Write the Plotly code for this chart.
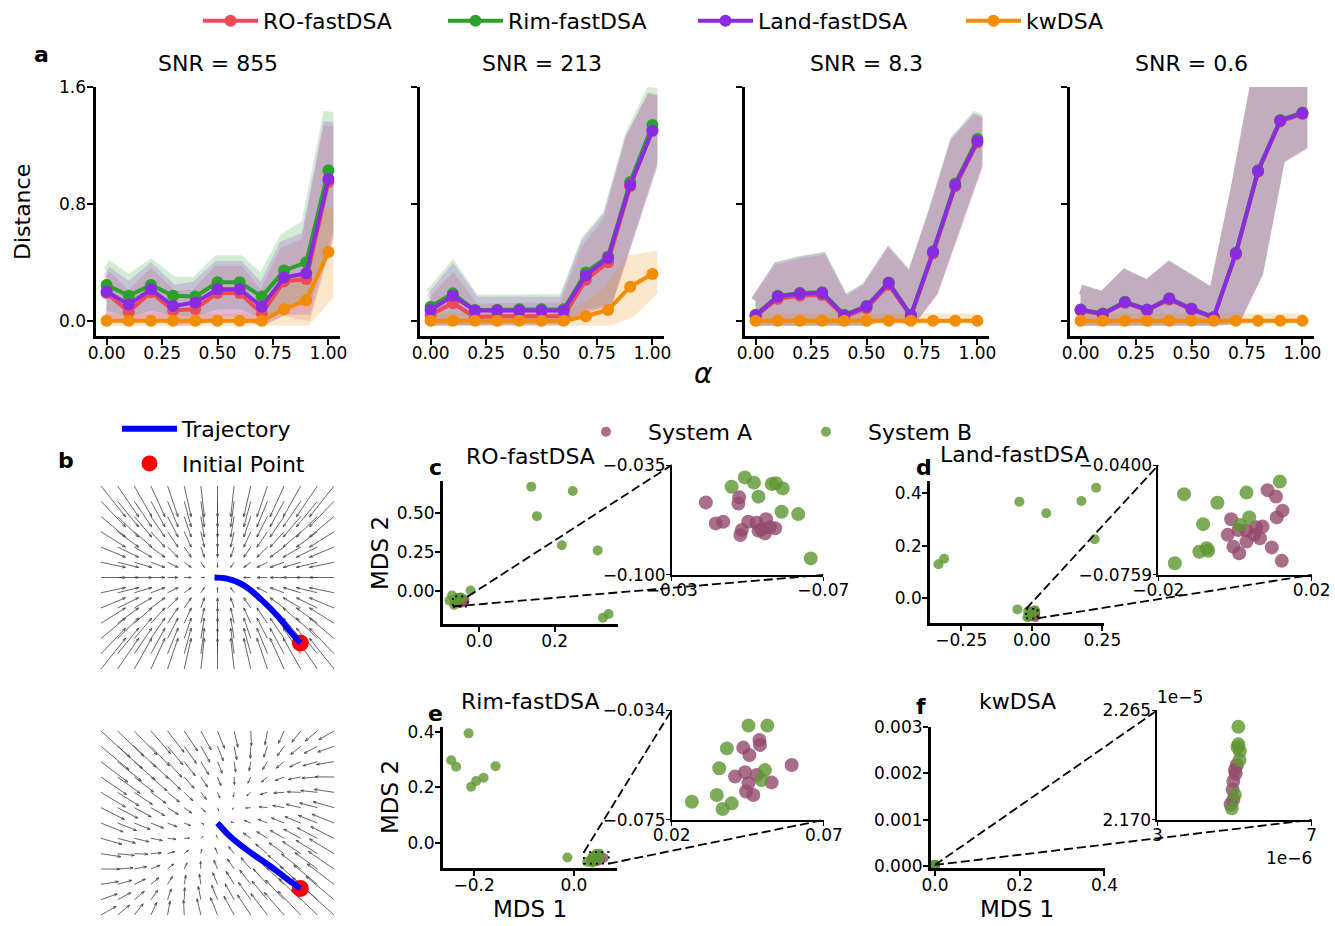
import numpy as np
import plotly.graph_objects as go

W, H = 1335, 926
FONT = "DejaVu Sans"

# ---------------- panel a data ----------------
alpha = [0.0, 0.1, 0.2, 0.3, 0.4, 0.5, 0.6, 0.7, 0.8, 0.9, 1.0]
snr_titles = ["SNR = 855", "SNR = 213", "SNR = 8.3", "SNR = 0.6"]
method_names = ["RO-fastDSA", "Rim-fastDSA", "Land-fastDSA", "kwDSA"]
method_colors = ["#EB4B55", "#2CA02C", "#8A2BE2", "#F28C00"]

ro_mean_855 = [0.19, 0.06, 0.195, 0.07, 0.08, 0.19, 0.19, 0.05, 0.27, 0.285, 0.95]
ro_sd_855 = [0.12, 0.10, 0.12, 0.10, 0.10, 0.15, 0.15, 0.10, 0.20, 0.25, 0.38]
rim_mean_855 = [0.245, 0.17, 0.245, 0.17, 0.165, 0.263, 0.263, 0.165, 0.343, 0.40, 1.03]
rim_sd_855 = [0.14, 0.11, 0.14, 0.10, 0.10, 0.15, 0.15, 0.11, 0.22, 0.26, 0.40]
land_mean_855 = [0.20, 0.11, 0.215, 0.10, 0.125, 0.215, 0.215, 0.096, 0.295, 0.325, 0.97]
land_sd_855 = [0.14, 0.12, 0.14, 0.11, 0.11, 0.16, 0.16, 0.11, 0.22, 0.25, 0.39]
kw_mean_855 = [0.0, 0.0, 0.0, 0.0, 0.0, 0.0, 0.0, 0.0, 0.078, 0.14, 0.47]
kw_sd_855 = [0.015, 0.015, 0.015, 0.015, 0.015, 0.015, 0.015, 0.015, 0.10, 0.17, 0.30]

ro_mean_213 = [0.04, 0.12, 0.023, 0.03, 0.03, 0.03, 0.03, 0.28, 0.40, 0.92, 1.31]
ro_sd_213 = [0.08, 0.16, 0.06, 0.06, 0.06, 0.06, 0.06, 0.21, 0.28, 0.32, 0.24]
rim_mean_213 = [0.096, 0.187, 0.073, 0.075, 0.078, 0.078, 0.078, 0.33, 0.44, 0.95, 1.34]
rim_sd_213 = [0.09, 0.18, 0.07, 0.07, 0.07, 0.07, 0.07, 0.22, 0.29, 0.33, 0.25]
land_mean_213 = [0.073, 0.17, 0.07, 0.07, 0.07, 0.07, 0.07, 0.31, 0.43, 0.93, 1.30]
land_sd_213 = [0.08, 0.17, 0.06, 0.06, 0.06, 0.06, 0.06, 0.22, 0.29, 0.32, 0.24]
kw_mean_213 = [0.0, 0.0, 0.0, 0.0, 0.0, 0.0, 0.0, 0.03, 0.073, 0.233, 0.32]
kw_sd_213 = [0.015, 0.015, 0.015, 0.015, 0.015, 0.015, 0.015, 0.06, 0.13, 0.18, 0.12]

ro_mean_83 = [0.03, 0.15, 0.17, 0.175, 0.025, 0.085, 0.245, 0.03, 0.46, 0.92, 1.22]
ro_sd_83 = [0.10, 0.20, 0.22, 0.24, 0.10, 0.13, 0.20, 0.25, 0.27, 0.30, 0.17]
rim_mean_83 = [0.04, 0.17, 0.19, 0.195, 0.04, 0.10, 0.262, 0.04, 0.475, 0.94, 1.245]
rim_sd_83 = [0.10, 0.20, 0.22, 0.24, 0.10, 0.13, 0.20, 0.25, 0.27, 0.30, 0.17]
land_mean_83 = [0.035, 0.166, 0.184, 0.19, 0.035, 0.097, 0.258, 0.035, 0.47, 0.93, 1.23]
land_sd_83 = [0.10, 0.20, 0.22, 0.24, 0.10, 0.13, 0.20, 0.25, 0.27, 0.30, 0.17]
kw_mean_83 = [0.0, 0.0, 0.0, 0.0, 0.0, 0.0, 0.0, 0.0, 0.0, 0.0, 0.0]
kw_sd_83 = [0.015, 0.015, 0.015, 0.015, 0.015, 0.015, 0.015, 0.015, 0.015, 0.015, 0.015]

ro_mean_06 = [0.07, 0.043, 0.122, 0.07, 0.145, 0.076, 0.02, 0.455, 1.02, 1.365, 1.415]
ro_sd_06 = [0.14, 0.12, 0.19, 0.17, 0.22, 0.20, 0.16, 0.45, 0.70, 0.26, 0.22]
rim_mean_06 = [0.077, 0.049, 0.13, 0.077, 0.153, 0.083, 0.025, 0.465, 1.03, 1.375, 1.425]
rim_sd_06 = [0.14, 0.12, 0.19, 0.17, 0.22, 0.20, 0.16, 0.45, 0.70, 0.26, 0.22]
land_mean_06 = [0.074, 0.046, 0.127, 0.074, 0.15, 0.08, 0.023, 0.46, 1.025, 1.37, 1.42]
land_sd_06 = [0.14, 0.12, 0.19, 0.17, 0.22, 0.20, 0.16, 0.45, 0.70, 0.26, 0.22]
kw_mean_06 = [0.0, 0.0, 0.0, 0.0, 0.0, 0.0, 0.0, 0.0, 0.0, 0.0, 0.0]
kw_sd_06 = [0.015, 0.015, 0.015, 0.015, 0.015, 0.015, 0.015, 0.015, 0.015, 0.015, 0.015]

panel_a = [
    [(ro_mean_855, ro_sd_855), (rim_mean_855, rim_sd_855), (land_mean_855, land_sd_855), (kw_mean_855, kw_sd_855)],
    [(ro_mean_213, ro_sd_213), (rim_mean_213, rim_sd_213), (land_mean_213, land_sd_213), (kw_mean_213, kw_sd_213)],
    [(ro_mean_83, ro_sd_83), (rim_mean_83, rim_sd_83), (land_mean_83, land_sd_83), (kw_mean_83, kw_sd_83)],
    [(ro_mean_06, ro_sd_06), (rim_mean_06, rim_sd_06), (land_mean_06, land_sd_06), (kw_mean_06, kw_sd_06)],
]

# ---------------- panel b data ----------------
field_top = [[-1.0, 0.0], [0.0, -1.6]]
field_bottom = [[-1.0, 0.4], [0.4, -1.0]]
traj_top_x = [0.69, 0.61, 0.50, 0.36, 0.22, 0.08, -0.025]
traj_top_y = [-0.545, -0.455, -0.32, -0.18, -0.065, -0.01, 0.0]
traj_bot_x = [0.69, 0.61, 0.44, 0.28, 0.11, 0.0]
traj_bot_y = [-0.545, -0.49, -0.36, -0.25, -0.117, 0.0]
init_top = [0.69, -0.545]
init_bot = [0.69, -0.545]

# ---------------- panels c-f data (MDS embeddings) ----------------
c_A_x = [-0.0390, -0.0478, -0.0476, -0.0416, -0.0436, -0.0485, -0.0481, -0.0502, -0.0524, -0.0537, -0.0549, -0.0559, -0.0573, -0.0546, -0.0529]
c_A_y = [-0.0571, -0.0541, -0.0577, -0.0695, -0.0685, -0.0734, -0.0764, -0.0685, -0.0691, -0.0730, -0.0671, -0.0718, -0.0724, -0.0754, -0.0738]
c_B_x = [0.138, 0.248, 0.153, 0.219, 0.314, 0.343, 0.328, -0.023, -0.079, -0.072,
         -0.0493, -0.0517, -0.0458, -0.0564, -0.0575, -0.0593, -0.0529, -0.0590, -0.0634, -0.0667]
c_B_y = [0.667, 0.639, 0.478, 0.292, 0.259, -0.148, -0.172, 0.002, -0.062, -0.030,
         -0.0423, -0.0454, -0.0478, -0.0462, -0.0458, -0.0488, -0.0537, -0.0626, -0.0640, -0.0902]

d_A_x = [0.0085, 0.0107, 0.0124, 0.0109, -0.0010, -0.0019, 0.0009, 0.0030, 0.0072, 0.0050, 0.0065, 0.0030, -0.0004, 0.0011, 0.0096, 0.0122, 0.0055]
d_A_y = [-0.0482, -0.0503, -0.0549, -0.0571, -0.0577, -0.0628, -0.0612, -0.0614, -0.0601, -0.0628, -0.0639, -0.0650, -0.0667, -0.0688, -0.0669, -0.0713, -0.0603]
d_B_x = [-0.044, 0.051, 0.176, 0.228, 0.223, -0.331, -0.311, -0.051,
         -0.0133, -0.0046, 0.0030, 0.0117, -0.0083, 0.0037, 0.0013, -0.0093, -0.0074, -0.0070, -0.0157]
d_B_y = [0.368, 0.324, 0.371, 0.421, 0.225, 0.130, 0.151, -0.042,
         -0.0495, -0.0523, -0.0490, -0.0454, -0.0593, -0.0571, -0.0596, -0.0683, -0.0672, -0.0680, -0.0721]

e_A_x = [0.0488, 0.0490, 0.0435, 0.0455, 0.0594, 0.0441, 0.0408, 0.0479, 0.0528, 0.0444, 0.0468, 0.0452]
e_A_y = [-0.0452, -0.0470, -0.0480, -0.0508, -0.0545, -0.0572, -0.0588, -0.0582, -0.0610, -0.0644, -0.0657, -0.0613]
e_B_x = [-0.211, -0.246, -0.236, -0.157, -0.181, -0.196, -0.206, -0.013,
         0.0452, 0.0514, 0.0381, 0.0356, 0.0506, 0.0495, 0.0348, 0.0397, 0.0367, 0.0266]
e_B_y = [0.394, 0.297, 0.274, 0.276, 0.234, 0.222, 0.202, -0.053,
         -0.0398, -0.0398, -0.0483, -0.0557, -0.0564, -0.0601, -0.0657, -0.0688, -0.0709, -0.0682]

f_A_x = [5.06e-6, 5.01e-6, 4.97e-6, 4.97e-6, 4.90e-6, 5.03e-6, 4.95e-6]
f_A_y = [2.2175e-5, 2.2132e-5, 2.2037e-5, 2.1873e-5, 2.1835e-5, 2.2100e-5, 2.1960e-5]
f_B_x = [5.10e-6, 5.10e-6, 5.14e-6, 5.13e-6, 5.01e-6, 5.08e-6, 4.93e-6]
f_B_y = [2.2506e-5, 2.2354e-5, 2.2296e-5, 2.2218e-5, 2.1916e-5, 2.2330e-5, 2.1800e-5]

sysA_color = "#944A6C"
sysB_color = "#5E9631"

TXT = 22     # titles / legends / labels
TICK = 17    # tick labels


# ---------------- helpers ----------------
def dom_x(l, r):
    return [l / W, r / W]


def dom_y(t, b):
    return [1 - b / H, 1 - t / H]


def ax_style(lw, ticklen, tickw, fsize, standoff=0):
    return dict(showline=True, linecolor="black", linewidth=lw, ticks="outside",
                ticklen=ticklen, tickwidth=tickw, tickcolor="black",
                showgrid=False, zeroline=False, fixedrange=True, automargin=False,
                ticklabelstandoff=standoff,
                tickfont=dict(family=FONT, size=fsize, color="black"))


layout = dict(width=W, height=H, margin=dict(l=0, r=0, t=0, b=0, pad=0, autoexpand=False),
              paper_bgcolor="white", plot_bgcolor="white",
              font=dict(family=FONT, color="black"), showlegend=True)
axes = {}


def add_axes(idx, l, r, t, b, xr, yr, xkw, ykw):
    xn = "xaxis" if idx == 1 else f"xaxis{idx}"
    yn = "yaxis" if idx == 1 else f"yaxis{idx}"
    xref = "x" if idx == 1 else f"x{idx}"
    yref = "y" if idx == 1 else f"y{idx}"
    layout[xn] = dict(domain=dom_x(l, r), range=xr, anchor=yref, **xkw)
    layout[yn] = dict(domain=dom_y(t, b), range=yr, anchor=xref, **ykw)
    axes[idx] = (dom_x(l, r), xr, dom_y(t, b), yr)
    return xref, yref


def to_paper(idx, x, y):
    xd, xr, yd, yr = axes[idx]
    px = xd[0] + (x - xr[0]) / (xr[1] - xr[0]) * (xd[1] - xd[0])
    py = yd[0] + (y - yr[0]) / (yr[1] - yr[0]) * (yd[1] - yd[0])
    return px, py


fig = go.Figure()
annotations = []
shapes = []


def ann(text, x, y, size, bold=False, angle=0, xanchor="center", yanchor="middle"):
    if bold:
        text = f"<b>{text}</b>"
    annotations.append(dict(text=text, x=x / W, y=1 - y / H, xref="paper", yref="paper",
                            showarrow=False, xanchor=xanchor, yanchor=yanchor, textangle=angle,
                            font=dict(family=FONT, size=size, color="black")))


# ---------------- panel a ----------------
a_lefts = [95.5, 419.5, 744.5, 1069.5]
top_legends = ["legend", "legend4", "legend5", "legend6"]
for k in range(4):
    idx = k + 1
    xk = dict(tickvals=[0, 0.25, 0.5, 0.75, 1.0], tickformat=".2f", **ax_style(3, 6, 2, TICK, -6))
    yk = dict(tickvals=[0, 0.8, 1.6], tickformat=".1f", showticklabels=(k == 0), **ax_style(3, 6, 2, TICK, -3))
    xref, yref = add_axes(idx, a_lefts[k], a_lefts[k] + 244, 87, 336,
                          [-0.05, 1.05], [-0.105, 1.6005], xk, yk)
    for m in range(4):
        mean, sd = panel_a[k][m]
        mean = np.array(mean)
        sd = np.array(sd)
        upper = mean + sd
        lower = np.maximum(mean - sd, 0.0)
        fig.add_trace(go.Scatter(
            x=alpha + alpha[::-1], y=list(upper) + list(lower[::-1]),
            fill="toself", fillcolor=method_colors[m], mode="lines",
            line=dict(color=method_colors[m], width=10), opacity=0.2,
            hoverinfo="skip", showlegend=False, xaxis=xref, yaxis=yref))
    for m in range(4):
        mean, sd = panel_a[k][m]
        fig.add_trace(go.Scatter(
            x=alpha, y=mean, mode="lines+markers", name=method_names[m],
            line=dict(color=method_colors[m], width=4),
            marker=dict(color=method_colors[m], size=12),
            showlegend=(k == 0), legend=top_legends[m], xaxis=xref, yaxis=yref))
    ann(snr_titles[k], a_lefts[k] + 122, 63, TXT)

ann("a", 41, 54, 22, bold=True)
ann("Distance", 22, 212, TXT, angle=-90)
ann("<i>α</i>", 703, 373, 28)


# ---------------- panel b (vector fields) ----------------
def quiver(A, xs, ys, scale, head=0.028, ang=np.deg2rad(20)):
    X, Y = [], []
    for yv in ys:
        for xv in xs:
            u = A[0][0] * xv + A[0][1] * yv
            v = A[1][0] * xv + A[1][1] * yv
            x1, y1 = xv + scale * u, yv + scale * v
            X += [xv, x1, None]
            Y += [yv, y1, None]
            L = np.hypot(u, v) * scale
            if L > 1e-6:
                ux, uy = (x1 - xv) / L, (y1 - yv) / L
                h = min(head, 0.35 * L)
                for s in (1, -1):
                    c, sn = np.cos(ang), np.sin(s * ang)
                    hx = -(ux * c - uy * sn) * h
                    hy = -(ux * sn + uy * c) * h
                    X += [x1, x1 + hx, None]
                    Y += [y1, y1 + hy, None]
    return X, Y


hidden = dict(visible=False, fixedrange=True)
b_specs = [
    (5, 480, 675, [-0.8125, 0.8125], field_top, 0.21, traj_top_x, traj_top_y, init_top, True),
    (6, 725, 921, [-0.8167, 0.8167], field_bottom, 0.19, traj_bot_x, traj_bot_y, init_bot, False),
]
for idx, t, b, yr, A, sc, tx, ty, ip, leg in b_specs:
    xref, yref = add_axes(idx, 95, 340, t, b, [-1.02, 1.02], yr, dict(hidden), dict(hidden))
    xs = np.linspace(-0.97, 0.97, 15)
    ys = np.linspace(yr[0] + 0.05, yr[1] - 0.05, 13)
    QX, QY = quiver(A, xs, ys, sc)
    fig.add_trace(go.Scatter(x=QX, y=QY, mode="lines", line=dict(color="#404040", width=0.8),
                             hoverinfo="skip", showlegend=False, xaxis=xref, yaxis=yref))
    fig.add_trace(go.Scatter(x=[ip[0]], y=[ip[1]], mode="markers", name="Initial Point",
                             marker=dict(color="#FF0000", size=17), legend="legend2", legendrank=2,
                             legendgroup="init", showlegend=leg, xaxis=xref, yaxis=yref))
    fig.add_trace(go.Scatter(x=tx, y=ty, mode="lines", name="Trajectory", line_shape="spline",
                             line=dict(color="#0000FF", width=6), legend="legend2", legendrank=1,
                             legendgroup="traj", showlegend=leg, xaxis=xref, yaxis=yref))
ann("b", 66, 460, 22, bold=True)

# ---------------- panels c-f ----------------
scatter_specs = [
    dict(mi=7, ii=8, mbox=(442.7, 618, 481, 624.3), mxr=[-0.097, 0.368], myr=[-0.214, 0.703],
         mxt=dict(tickvals=[0.0, 0.2], tickformat=".1f"), myt=dict(tickvals=[0.0, 0.25, 0.5], tickformat=".2f"),
         ibox=(671.7, 823.3, 465, 575), ixr=[-0.03 + 2e-5, -0.07 - 2e-5], iyr=[-0.1 - 3e-5, -0.035 + 3e-5],
         ixt=dict(tickvals=[-0.03, -0.07], tickformat=".2f"), iyt=dict(tickvals=[-0.1, -0.035], tickformat=".3f"),
         A=(c_A_x, c_A_y), B=(c_B_x, c_B_y), rect=(-0.07, -0.03, -0.1, -0.035),
         corners=[(-0.03, -0.035), (-0.07, -0.1)], legend=True),
    dict(mi=9, ii=10, mbox=(930, 1104, 480.7, 623.3), mxr=[-0.361, 0.256], myr=[-0.095, 0.448],
         mxt=dict(tickvals=[-0.25, 0.0, 0.25], tickformat=".2f"), myt=dict(tickvals=[0.0, 0.2, 0.4], tickformat=".1f"),
         ibox=(1158.3, 1311.7, 465, 575), ixr=[-0.02 - 2e-5, 0.02 + 2e-5], iyr=[-0.0759 - 2e-5, -0.04 + 2e-5],
         ixt=dict(tickvals=[-0.02, 0.02], tickformat=".2f"), iyt=dict(tickvals=[-0.0759, -0.04], tickformat=".4f"),
         A=(d_A_x, d_A_y), B=(d_B_x, d_B_y), rect=(-0.02, 0.02, -0.0759, -0.04),
         corners=[(-0.02, -0.04), (0.02, -0.0759)], legend=False),
    dict(mi=11, ii=12, mbox=(442.7, 617.3, 726.7, 868.3), mxr=[-0.263, 0.087], myr=[-0.092, 0.418],
         mxt=dict(tickvals=[-0.2, 0.0], tickformat=".1f"), myt=dict(tickvals=[0.0, 0.2, 0.4], tickformat=".1f"),
         ibox=(671.7, 824, 710, 820), ixr=[0.02 - 2e-5, 0.07 + 2e-5], iyr=[-0.075 - 2e-5, -0.034 + 2e-5],
         ixt=dict(tickvals=[0.02, 0.07], tickformat=".2f"), iyt=dict(tickvals=[-0.075, -0.034], tickformat=".3f"),
         A=(e_A_x, e_A_y), B=(e_B_x, e_B_y), rect=(0.02, 0.07, -0.075, -0.034),
         corners=[(0.02, -0.034), (0.07, -0.075)], legend=False),
    dict(mi=13, ii=14, mbox=(930.7, 1105, 726.7, 868.3), mxr=[-0.010, 0.4012], myr=[-0.00005, 0.003005],
         mxt=dict(tickvals=[0.0, 0.2, 0.4], tickformat=".1f"), myt=dict(tickvals=[0.0, 0.001, 0.002, 0.003], tickformat=".3f"),
         ibox=(1157.3, 1311.7, 710, 820), ixr=[3e-6 - 2e-9, 7e-6 + 2e-9], iyr=[2.17e-5 - 2e-9, 2.265e-5 + 2e-9],
         ixt=dict(tickvals=[3e-6, 7e-6], ticktext=["3", "7"]), iyt=dict(tickvals=[2.17e-5, 2.265e-5], ticktext=["2.170", "2.265"]),
         A=(f_A_x, f_A_y), B=(f_B_x, f_B_y), rect=(3e-6, 7e-6, 2.17e-5, 2.265e-5),
         corners=[(3e-6, 2.265e-5), (7e-6, 2.17e-5)], legend=False),
]

for s in scatter_specs:
    l, r, t, b = s["mbox"]
    xm, ym = add_axes(s["mi"], l, r, t, b, s["mxr"], s["myr"],
                      dict(**s["mxt"], **ax_style(2.5, 5, 1.5, TICK, -5)),
                      dict(**s["myt"], **ax_style(2.5, 5, 1.5, TICK, -3)))
    l2, r2, t2, b2 = s["ibox"]
    xi, yi = add_axes(s["ii"], l2, r2, t2, b2, s["ixr"], s["iyr"],
                      dict(**s["ixt"], **ax_style(1.5, 4, 1.2, TICK, -5)),
                      dict(**s["iyt"], **ax_style(1.5, 4, 1.2, TICK, -3)))
    for (xa, ya, size) in ((xm, ym, 10), (xi, yi, 14)):
        fig.add_trace(go.Scatter(x=s["A"][0], y=s["A"][1], mode="markers", name="System A",
                                 marker=dict(color=sysA_color, size=size, opacity=0.8, line=dict(width=0)),
                                 legend="legend3", showlegend=(s["legend"] and size == 10),
                                 xaxis=xa, yaxis=ya))
        fig.add_trace(go.Scatter(x=s["B"][0], y=s["B"][1], mode="markers", name="System B",
                                 marker=dict(color=sysB_color, size=size, opacity=0.8, line=dict(width=0)),
                                 legend="legend7", showlegend=(s["legend"] and size == 10),
                                 xaxis=xa, yaxis=ya))
    x0, x1, y0, y1 = s["rect"]
    shapes.append(dict(type="rect", xref=xm, yref=ym, x0=x0, x1=x1, y0=y0, y1=y1,
                       line=dict(color="black", width=1.8, dash="2px,4px"), layer="above"))
    for (cx, cy) in s["corners"]:
        p0 = to_paper(s["mi"], cx, cy)
        p1 = to_paper(s["ii"], cx, cy)
        shapes.append(dict(type="line", xref="paper", yref="paper", x0=p0[0], y0=p0[1], x1=p1[0], y1=p1[1],
                           line=dict(color="black", width=1.8, dash="9px,4px"), layer="above"))

ann("c", 435, 467, 22, bold=True)
ann("RO-fastDSA", 530, 456, TXT)
ann("d", 924, 467, 22, bold=True)
ann("Land-fastDSA", 1014, 455, TXT)
ann("e", 436, 713, 22, bold=True)
ann("Rim-fastDSA", 530, 701, TXT)
ann("f", 921, 706, 22, bold=True)
ann("kwDSA", 1017, 701, TXT)
ann("MDS 2", 380, 553, 23, angle=-90)
ann("MDS 2", 390, 797, 23, angle=-90)
ann("MDS 1", 530, 909, 23)
ann("MDS 1", 1017, 909, 23)
ann("1e\u22125", 1180, 697, TICK)
ann("1e\u22126", 1289, 858, TICK)

legend_font = dict(family=FONT, size=TXT, color="black")


def legend_at(x_px, y_px, iw, orient="h", **kw):
    return dict(orientation=orient, x=x_px / W, y=1 - y_px / H, xanchor="left", yanchor="top",
                font=legend_font, itemwidth=iw, bgcolor="rgba(0,0,0,0)", **kw)


layout["legend"] = legend_at(198, 0, 55)
layout["legend4"] = legend_at(443, 0, 55)
layout["legend5"] = legend_at(693, 0, 55)
layout["legend6"] = legend_at(961, 0, 55)
layout["legend2"] = legend_at(117, 408, 55, orient="v", traceorder="grouped", tracegroupgap=3)
layout["legend3"] = legend_at(564, 411, 74)
layout["legend7"] = legend_at(784, 411, 74)
layout["annotations"] = annotations
layout["shapes"] = shapes

fig.update_layout(**layout)
fig.write_html("out.html", config={"displayModeBar": False},
               post_script="document.body.style.margin='0px';document.body.style.padding='0px';"
                           "document.body.style.overflow='hidden';")
